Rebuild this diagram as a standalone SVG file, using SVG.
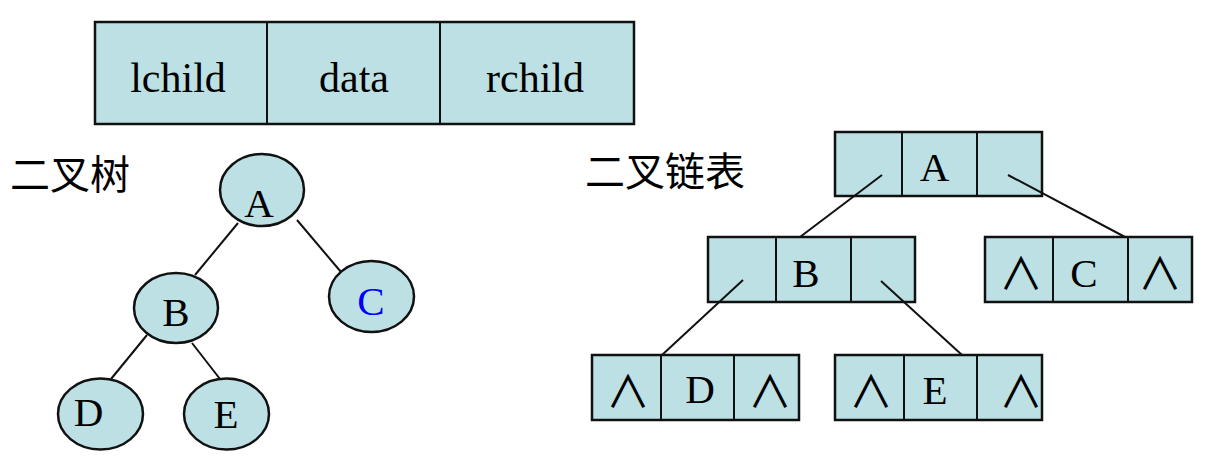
<svg xmlns="http://www.w3.org/2000/svg" width="1219" height="476" viewBox="0 0 1219 476">
<style>
.cell{fill:#BCE0E3;stroke:#111;stroke-width:2.5}
.div{stroke:#111;stroke-width:2}
.ell{fill:#BCE0E3;stroke:#111;stroke-width:2.5}
.lbl{font-family:"Liberation Serif","Times New Roman",serif;font-size:41px;fill:#000;text-anchor:middle}
.big{font-family:"Liberation Serif","Times New Roman",serif;font-size:42px;fill:#000;text-anchor:middle}
.cjk{font-family:"Noto Sans CJK SC","Noto Sans CJK TC",sans-serif;font-size:40px;fill:#000}
.nil{font-family:"Noto Sans CJK SC","Noto Sans CJK TC",sans-serif;font-size:44px;font-weight:400;fill:#000;text-anchor:middle}
.con{stroke:#111;stroke-width:2;fill:none}
</style>
<rect width="1219" height="476" fill="#fff"/>

<g id="record">
<rect class="cell" x="95" y="22" width="539" height="102"/>
<line class="div" x1="267" y1="22" x2="267" y2="124"/>
<line class="div" x1="440" y1="22" x2="440" y2="124"/>
<text class="big" x="178" y="92">lchild</text>
<text class="big" x="354" y="92">data</text>
<text class="big" x="535" y="92">rchild</text>
</g>

<g id="title-tree"><text class="cjk" x="10" y="189">二叉树</text></g>
<g id="title-list"><text class="cjk" x="585" y="186">二叉链表</text></g>

<g id="tree-A"><ellipse class="ell" cx="262" cy="190" rx="42" ry="36"/><text class="lbl" x="259" y="217">A</text></g>
<g id="tree-B"><ellipse class="ell" cx="176" cy="308" rx="42" ry="35"/><text class="lbl" x="176" y="326">B</text></g>
<g id="tree-C"><ellipse class="ell" cx="371.5" cy="296.5" rx="42.5" ry="35.5"/><text class="lbl" x="371" y="315" style="fill:#0000FF">C</text></g>
<g id="tree-D"><ellipse class="ell" cx="100.5" cy="414" rx="42.5" ry="35.5"/><text class="lbl" x="88.5" y="426">D</text></g>
<g id="tree-E"><ellipse class="ell" cx="226.5" cy="414" rx="42.5" ry="35.5"/><text class="lbl" x="226" y="428">E</text></g>

<g id="list-A">
<rect class="cell" x="835" y="132" width="207" height="64"/>
<line class="div" x1="902" y1="132" x2="902" y2="196"/>
<line class="div" x1="977" y1="132" x2="977" y2="196"/>
<text class="lbl" x="934.5" y="181">A</text>
</g>
<g id="list-B">
<rect class="cell" x="708" y="237" width="207" height="65"/>
<line class="div" x1="776" y1="237" x2="776" y2="302"/>
<line class="div" x1="851" y1="237" x2="851" y2="302"/>
<text class="lbl" x="806" y="287">B</text>
</g>
<g id="list-C">
<rect class="cell" x="985" y="237" width="207" height="65"/>
<line class="div" x1="1053" y1="237" x2="1053" y2="302"/>
<line class="div" x1="1128" y1="237" x2="1128" y2="302"/>
<text class="nil" x="1021" y="290">∧</text>
<text class="lbl" x="1084" y="287">C</text>
<text class="nil" x="1160" y="290">∧</text>
</g>
<g id="list-D">
<rect class="cell" x="592" y="355" width="207" height="65"/>
<line class="div" x1="661" y1="355" x2="661" y2="420"/>
<line class="div" x1="734" y1="355" x2="734" y2="420"/>
<text class="nil" x="628" y="408">∧</text>
<text class="lbl" x="700" y="403">D</text>
<text class="nil" x="770" y="408">∧</text>
</g>
<g id="list-E">
<rect class="cell" x="835" y="355" width="207" height="65"/>
<line class="div" x1="904" y1="355" x2="904" y2="420"/>
<line class="div" x1="977" y1="355" x2="977" y2="420"/>
<text class="nil" x="871" y="408">∧</text>
<text class="lbl" x="935" y="404">E</text>
<text class="nil" x="1021" y="408">∧</text>
</g>

<g id="connectors">
<line class="con" x1="238" y1="223" x2="195" y2="275"/>
<line class="con" x1="297" y1="220" x2="341" y2="272"/>
<line class="con" x1="147" y1="335" x2="111" y2="379"/>
<line class="con" x1="192" y1="343" x2="220" y2="379"/>
<line class="con" x1="882" y1="175" x2="800" y2="237"/>
<line class="con" x1="1008" y1="175" x2="1125" y2="237"/>
<line class="con" x1="743" y1="280" x2="662" y2="355"/>
<line class="con" x1="881" y1="281" x2="962" y2="355"/>
</g>
</svg>
